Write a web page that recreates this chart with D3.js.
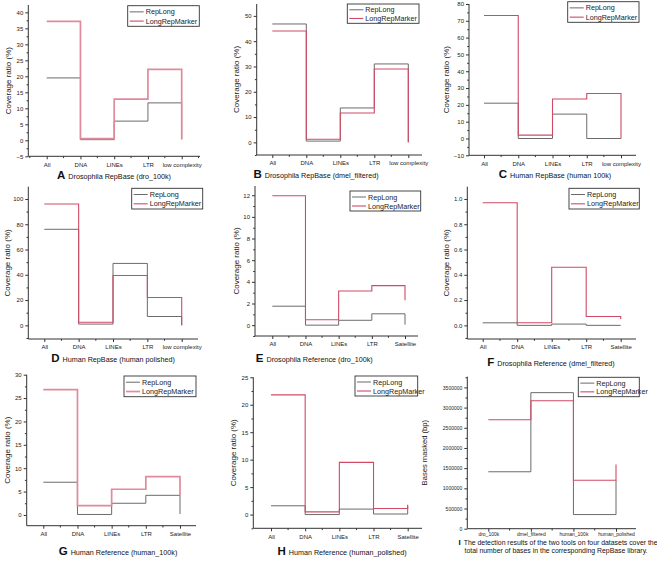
<!DOCTYPE html>
<html><head><meta charset="utf-8">
<script src="https://cdn.jsdelivr.net/npm/d3@7"></script>
<style>
body{margin:0;background:#fff;}
svg{display:block;font-family:"Liberation Sans",Arial,sans-serif;}
</style></head>
<body><svg id="c" width="657" height="563"></svg>
<script>
// ---- data ----
const catsRepBase = ["All","DNA","LINEs","LTR","low complexity"];
const catsReference = ["All","DNA","LINEs","LTR","Satellite"];
const catsDatasets = ["dro_100k","dmel_filtered","human_100k","human_polished"];
const seriesNames = ["RepLong","LongRepMarker"];

const repLongA = [19.5, 0.2, 6.0, 11.7, 0.3];
const lrmA     = [37.2, 0.5, 12.9, 22.2, 0.3];
const repLongB = [46.8, 0.5, 13.6, 31.0, 0];
const lrmB     = [44.0, 1.2, 11.6, 29.0, 0];
const repLongC = [21.0, 0, 14.5, 0, 0];
const lrmC     = [73.2, 2.0, 23.5, 26.8, 0];
const repLongD = [76, 1.0, 49, 7, 0];
const lrmD     = [96, 2.5, 39.5, 22, 0];
const repLongE = [1.75, 0, 0.45, 1.05, 0.05];
const lrmE     = [11.95, 0.5, 3.15, 3.65, 2.3];
const repLongF = [0.02, 0.0, 0.01, 0.0, 0.0];
const lrmF     = [0.97, 0.02, 0.46, 0.07, 0.05];
const repLongG = [7.0, 0.1, 2.5, 4.2, 0.2];
const lrmG     = [26.8, 2.0, 5.5, 8.2, 4.2];
const repLongH = [1.6, 0.0, 1.0, 0.1, 1.8];
const lrmH     = [21.8, 0.5, 9.5, 1.1, 1.5];
const repLongI = [1410000, 3370000, 350000, 1200000];
const lrmI     = [2700000, 3170000, 1200000, 1590000];

const ticksA = [-5,0,5,10,15,20,25,30,35,40];
const ticksB = [0,10,20,30,40,50];
const ticksC = [-10,0,10,20,30,40,50,60,70,80];
const ticksD = [0,20,40,60,80,100];
const ticksE = [0,2,4,6,8,10,12];
const ticksF = [0.0,0.2,0.4,0.6,0.8,1.0];
const ticksG = [0,5,10,15,20,25,30];
const ticksH = [0,5,10,15,20,25];
const ticksI = [0,500000,1000000,1500000,2000000,2500000,3000000,3500000];

const letters = ["A","B","C","D","E","F","G","H","I"];
const captions = [
  "Drosophila RepBase (dro_100k)",
  "Drosophila RepBase (dmel_filtered)",
  "Human RepBase (human 100k)",
  "Human RepBase (human polished)",
  "Drosophila Reference (dro_100k)",
  "Drosophila Reference (dmel_filtered)",
  "Human Reference (human_100k)",
  "Human Reference (human_polished)",
  "The detection results of the two tools on four datasets cover the|total number of bases in the corresponding RepBase library."
];
const yTitleCov = "Coverage ratio (%)";
const yTitleBases = "Bases masked (bp)";

// ---- layout ----
const svg = d3.select("#c");
const grayCol = "#6b6b6b";
const redCol = "#d04a66";
const pinkCol = "#e08a9c";

const panels = [
 {cats:catsRepBase, rep:repLongA, lrm:lrmA, ticks:ticksA, dom:[-5,42.3], left:28.3, right:200, top:5, bottom:156.3, cx:[46.7,181.7], leg:[127.7,5.7,199.3,26.3], lx:8, cap:[114,178.5], pink:true, fmt:d3.format("d")},
 {cats:catsRepBase, rep:repLongB, lrm:lrmB, ticks:ticksB, dom:[-5,54.7], left:256.7, right:422, top:4, bottom:155, cx:[272.3,408.3], leg:[347.3,4,419,23.3], lx:236, cap:[316,177.5], fmt:d3.format("d")},
 {cats:catsRepBase, rep:repLongC, lrm:lrmC, ticks:ticksC, dom:[-10,80], left:469, right:636, top:4, bottom:155.3, cx:[484,621], leg:[567.7,1.7,639,22.3], lx:446, cap:[555,178], fmt:d3.format("d")},
 {cats:catsRepBase, rep:repLongD, lrm:lrmD, ticks:ticksD, dom:[-10.8,109.7], left:28.3, right:198, top:186.7, bottom:339, cx:[44.3,181.7], leg:[131.7,188.3,202.7,209], lx:7, cap:[113,362], fmt:d3.format("d")},
 {cats:catsReference, rep:repLongE, lrm:lrmE, ticks:ticksE, dom:[-1,12.85], left:255, right:418, top:186, bottom:336, cx:[272.3,405], leg:[350,191,420.7,211], lx:236, cap:[314.3,362], fmt:d3.format("d")},
 {cats:catsReference, rep:repLongF, lrm:lrmF, ticks:ticksF, dom:[-0.108,1.097], left:467.3, right:636, top:186.7, bottom:339, cx:[482.7,620.7], leg:[569,188.3,639.3,209], lx:446, cap:[551,365.5], fmt:d3.format(".1f")},
 {cats:catsReference, rep:repLongG, lrm:lrmG, ticks:ticksG, dom:[-2.3,30], left:26.7, right:196, top:374.7, bottom:525.7, cx:[43.3,180], leg:[124,376,196,396.7], lx:7, cap:[118,555], pink:true, fmt:d3.format("d")},
 {cats:catsReference, rep:repLongH, lrm:lrmH, ticks:ticksH, dom:[-2.5,25], left:253.3, right:422, top:377.3, bottom:528.3, cx:[271,407.7], leg:[355,376,417.7,396], lx:233, cap:[342,555], fmt:d3.format("d")},
 {cats:catsDatasets, rep:repLongI, lrm:lrmI, ticks:ticksI, dom:[0,3765000], left:467.3, right:636, top:376.7, bottom:528.7, cx:[488.3,616], leg:[578.3,377.3,639.3,396.7], lx:424, cap:[558,544.5], fmt:d3.format("d"), bases:true}
];

panels.forEach((p,i)=>{
  const g = svg.append("g");
  const x = d3.scalePoint().domain(p.cats).range(p.cx);
  const y = d3.scaleLinear().domain(p.dom).range([p.bottom,p.top]);

  // y axis major
  const ya = g.append("g").attr("transform",`translate(${p.left},0)`)
    .call(d3.axisLeft(y).tickValues(p.ticks).tickSize(3).tickPadding(2).tickFormat(p.fmt));
  // minor y ticks
  const step = p.ticks[1]-p.ticks[0];
  const minor = [];
  for(let v=p.ticks[0]-step/2; v<=p.dom[1]; v+=step){ if(v>=p.dom[0]) minor.push(v); }
  g.append("g").attr("transform",`translate(${p.left},0)`)
    .call(d3.axisLeft(y).tickValues(minor).tickSize(1.8).tickFormat(""))
    .select(".domain").remove();
  ya.select(".domain").remove();
  g.append("line").attr("x1",p.left).attr("x2",p.left).attr("y1",p.top).attr("y2",p.bottom)
    .attr("stroke","#333").attr("stroke-width",1);

  // x axis
  const xa = g.append("g").attr("transform",`translate(0,${p.bottom})`)
    .call(d3.axisBottom(x).tickSize(3).tickPadding(p.bases?1:3));
  xa.select(".domain").remove();
  g.append("line").attr("x1",p.left).attr("x2",p.right).attr("y1",p.bottom).attr("y2",p.bottom)
    .attr("stroke","#333").attr("stroke-width",1);
  const xs = p.cats.map(c=>x(c));
  const bw = x.step();
  const xminor = [xs[0]-bw/2].concat(xs.slice(0,-1).map((v,k)=>(v+xs[k+1])/2)).concat([xs[xs.length-1]+bw/2])
    .filter(v=>v>p.left+1 && v<p.right-0.5);
  g.selectAll(".xm").data(xminor).join("line")
    .attr("x1",d=>d).attr("x2",d=>d).attr("y1",p.bottom).attr("y2",p.bottom+1.8)
    .attr("stroke","#333").attr("stroke-width",1);

  g.selectAll(".tick text").attr("font-size",p.bases?5:6).attr("fill","#222")
    .attr("font-family","'Liberation Sans',Arial,sans-serif");
  g.selectAll(".tick line").attr("stroke","#333");

  // y title
  g.append("text").attr("transform",`translate(${p.lx},${(p.top+p.bottom)/2}) rotate(-90)`)
    .attr("text-anchor","middle").attr("dominant-baseline","central")
    .attr("font-size",p.bases?7.6:8).attr("fill","#222").text(p.bases?yTitleBases:yTitleCov);

  // step lines
  const line = d3.line().x(d=>x(d.c)).y(d=>y(d.v)).curve(d3.curveStepAfter);
  const lrmColor = p.pink? pinkCol : redCol;
  const lrmW = p.pink? 1.7 : 1.1;
  g.append("path").datum(p.cats.map((c,k)=>({c,v:p.rep[k]})))
    .attr("d",line).attr("fill","none").attr("stroke",grayCol).attr("stroke-width",1);
  g.append("path").datum(p.cats.map((c,k)=>({c,v:p.lrm[k]})))
    .attr("d",line).attr("fill","none").attr("stroke",lrmColor).attr("stroke-width",lrmW);

  // legend
  const [lx0,ly0,lx1,ly1] = p.leg;
  const lh = ly1-ly0;
  g.append("rect").attr("x",lx0).attr("y",ly0).attr("width",lx1-lx0).attr("height",lh)
    .attr("fill","#fff").attr("stroke","#333").attr("stroke-width",0.9);
  const rows = [ly0+lh*0.3, ly0+lh*0.75];
  const cols = [grayCol, lrmColor], ws=[1, lrmW];
  seriesNames.forEach((s,k)=>{
    g.append("line").attr("x1",lx0+2).attr("x2",lx0+16).attr("y1",rows[k]).attr("y2",rows[k])
      .attr("stroke",cols[k]).attr("stroke-width",ws[k]);
    g.append("text").attr("x",lx0+18).attr("y",rows[k]).attr("dominant-baseline","central")
      .attr("font-size",7.2).attr("fill","#222").text(s);
  });

  // caption
  if(!p.bases){
    const t = g.append("text").attr("x",p.cap[0]).attr("y",p.cap[1]).attr("text-anchor","middle").attr("fill","#111");
    t.append("tspan").attr("font-weight","bold").attr("font-size",11.5).text(letters[i]);
    t.append("tspan").attr("dx",3).attr("font-size",7.2).text(captions[i]);
  } else {
    const parts = captions[i].split("|");
    const t1 = g.append("text").attr("x",p.cap[0]).attr("y",p.cap[1]).attr("text-anchor","middle").attr("fill","#111");
    t1.append("tspan").attr("font-weight","bold").attr("font-size",8).text(letters[i]);
    t1.append("tspan").attr("dx",3).attr("font-size",6.9).text(parts[0]);
    g.append("text").attr("x",p.cap[0]-2).attr("y",p.cap[1]+8.5).attr("text-anchor","middle")
      .attr("font-size",6.9).attr("fill","#111").text(parts[1]);
  }
});
</script></body></html>
